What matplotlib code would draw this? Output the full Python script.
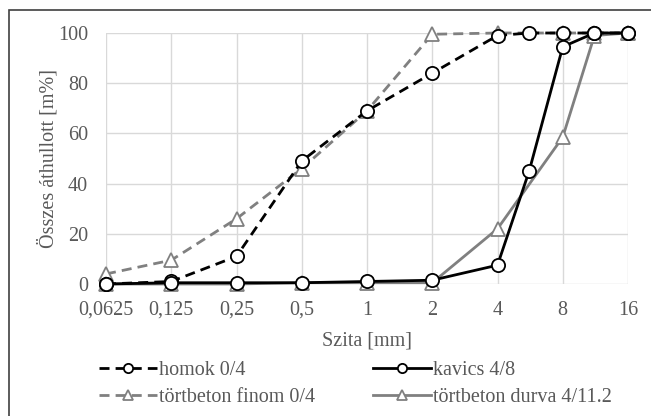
import numpy as np
import matplotlib.pyplot as plt
from matplotlib.patches import Rectangle
from matplotlib.ticker import FixedLocator, NullLocator

plt.rcParams['font.family'] = ['Liberation Serif', 'DejaVu Serif']

# Data
sieves = [0.0625, 0.125, 0.25, 0.5, 1, 2, 4, 8, 16]
tick_labels = ['0,0625', '0,125', '0,25', '0,5', '1', '2', '4', '8', '16']

homok_x = [0.0625, 0.125, 0.25, 0.5, 1, 2, 4, 5.6, 8, 11.2, 16]
homok_y = [0, 1, 11, 49, 69, 84, 99, 100, 100, 100, 100]

kavics_x = [0.0625, 0.125, 0.25, 0.5, 1, 2, 4, 5.6, 8, 11.2, 16]
kavics_y = [0, 0.5, 0.5, 0.5, 1, 1.5, 7.5, 45, 94.5, 100, 100]

finom_x = [0.0625, 0.125, 0.25, 0.5, 1, 2, 4, 8, 11.2, 16]
finom_y = [4, 9.5, 26, 46, 69, 99.5, 100, 100, 100, 100]

durva_x = [0.0625, 0.125, 0.25, 0.5, 1, 2, 4, 8, 11.2, 16]
durva_y = [0, 0, 0, 0.5, 0.5, 0.5, 22, 58.5, 99, 100]

gray = '#808080'
text_col = '#595959'
fs = 14.5

fig = plt.figure(figsize=(6.51, 4.16), dpi=100)
ax = fig.add_axes([106/651, 1-284/416, (628-106)/651, (284-33)/416])

ms = 9.5
lw = 2.0
dash = (0, (3.6, 2.2))
common = dict(ms=ms, mfc='white', mew=1.3, clip_on=False, lw=lw)
ax.plot(finom_x, finom_y, color=gray, ls=dash, marker='^', mec=gray,
        label='törtbeton finom 0/4', zorder=3, **common)
ax.plot(durva_x, durva_y, color=gray, marker='^', mec=gray,
        label='törtbeton durva 4/11.2', zorder=3, **common)
ax.plot(homok_x, homok_y, color='black', ls=dash, marker='o', mec='black',
        label='homok 0/4', zorder=4, **common)
ax.plot(kavics_x, kavics_y, color='black', marker='o', mec='black',
        label='kavics 4/8', zorder=4, **common)

ax.set_xscale('log', base=2)
ax.set_xlim(0.0625, 16)
ax.set_ylim(0, 100)
ax.xaxis.set_major_locator(FixedLocator(sieves))
ax.xaxis.set_minor_locator(NullLocator())
ax.set_xticklabels(tick_labels)
ax.set_yticks([0, 20, 40, 60, 80, 100])
ax.grid(True, color='#d9d9d9', lw=1)
ax.set_axisbelow(True)
for s in ax.spines.values():
    s.set_visible(False)
ax.tick_params(length=0, labelsize=fs, colors=text_col)
ax.tick_params(axis='x', pad=12)
ax.tick_params(axis='y', pad=13)

# axis titles
ax.set_xlabel('Szita [mm]', fontsize=fs, color=text_col, va='center')
ax.xaxis.set_label_coords(0.5, (284-341)/251)
ax.set_ylabel('Összes áthullott [m%]', fontsize=fs, color=text_col, va='center')
ax.yaxis.set_label_coords((48-106)/522, 0.5)

handles, labels = ax.get_legend_handles_labels()
order = [2, 0, 3, 1]
leg = fig.legend([handles[i] for i in order], [labels[i] for i in order],
                 ncol=2, loc='upper left', bbox_to_anchor=(89/651, 1-351/416),
                 frameon=False, fontsize=fs, handlelength=2.9, handletextpad=0.1,
                 columnspacing=2.85, labelspacing=0.4, markerscale=0.7, borderpad=0)
for t in leg.get_texts():
    t.set_color(text_col)

# chart border (cut off on the right and bottom)
fig.patches.append(Rectangle((9/651, -0.1), 1.2, 1 - 10/416 + 0.1, transform=fig.transFigure,
                             fill=False, ec='#404040', lw=1.2))

fig.savefig('out.png', dpi=100)
